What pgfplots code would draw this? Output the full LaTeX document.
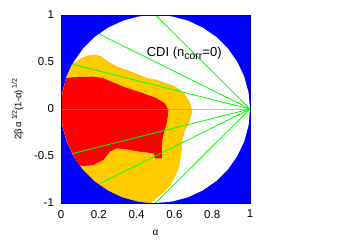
\documentclass[border=0pt]{standalone}
\usepackage{fontspec}
\setmainfont{Liberation Sans}
\usepackage{pgfplots}
\pgfplotsset{compat=1.18}
\definecolor{cblue}{RGB}{0,0,255}
\definecolor{cgold}{RGB}{255,204,0}
\definecolor{cred}{RGB}{255,0,0}
\definecolor{cgreen}{RGB}{0,255,0}
\definecolor{cedge}{RGB}{255,170,0}
\begin{document}
\begin{tikzpicture}[x=1pt,y=1pt]
\useasboundingbox (0,0) rectangle (342,240);
\begin{axis}[
  at={(61pt,37pt)}, anchor=south west,
  scale only axis, width=189pt, height=188pt,
  xmin=0, xmax=1, ymin=-1, ymax=1,
  xtick={0,0.2,0.4,0.6,0.8,1},
  xticklabels={0,0.2,0.4,0.6,0.8,1},
  ytick={-1,-0.5,0,0.5,1},
  yticklabels={-1,-0.5,0,0.5,1},
  major tick length=0pt,
  tick label style={font=\fontsize{11.5}{13}\selectfont},
  xticklabel style={yshift=-3.5pt},
  yticklabel style={xshift=-3.5pt},
  /pgf/number format/assume math mode=true,
  axis line style={draw=cblue!70!black, line width=0.4pt},
  axis on top,
  xlabel={α},
  xlabel style={at={(axis description cs:0.5,-0.16)}, anchor=center, font=\fontsize{10}{12}\selectfont},
  ylabel={2β\,α\,\raisebox{4.5pt}{\fontsize{7}{8}\selectfont 1/2}(1-α)\,\raisebox{4.5pt}{\fontsize{7}{8}\selectfont 1/2}},
  ylabel style={at={(axis description cs:-0.23,0.5)}, anchor=center, rotate=0, font=\fontsize{9.5}{11}\selectfont},
]
% blue background
\addplot[fill=cblue, draw=none] coordinates {(0,-1) (1,-1) (1,1) (0,1)} -- cycle;
% white physical ellipse
\addplot[fill=white, draw=none] coordinates {
(1,0) (0.9924,0.1736) (0.9698,0.3420) (0.9330,0.5) (0.8830,0.6428) (0.8214,0.7660)
(0.75,0.8660) (0.6710,0.9397) (0.5868,0.9848) (0.5,1) (0.4132,0.9848) (0.3290,0.9397)
(0.25,0.8660) (0.1786,0.7660) (0.1170,0.6428) (0.0670,0.5) (0.0302,0.3420) (0.0076,0.1736)
(0,0) (0.0076,-0.1736) (0.0302,-0.3420) (0.0670,-0.5) (0.1170,-0.6428) (0.1786,-0.7660)
(0.25,-0.8660) (0.3290,-0.9397) (0.4132,-0.9848) (0.5,-1) (0.5868,-0.9848) (0.6710,-0.9397)
(0.75,-0.8660) (0.8214,-0.7660) (0.8830,-0.6428) (0.9330,-0.5) (0.9698,-0.3420) (0.9924,-0.1736)
} -- cycle;
% gold region
\addplot[fill=cgold, draw=cedge, line width=0.3pt] coordinates {
(0.057,0.467) (0.10,0.53) (0.14,0.565) (0.175,0.575) (0.21,0.56) (0.25,0.50) (0.295,0.45)
(0.35,0.41) (0.40,0.37) (0.45,0.33) (0.50,0.31) (0.56,0.27) (0.60,0.24) (0.63,0.20)
(0.655,0.15) (0.675,0.09) (0.688,0.03) (0.69,-0.04) (0.68,-0.12) (0.665,-0.19)
(0.65,-0.25) (0.642,-0.32) (0.638,-0.40) (0.633,-0.50) (0.625,-0.60) (0.61,-0.69)
(0.594,-0.75) (0.575,-0.82) (0.545,-0.88) (0.515,-0.93) (0.49,-0.97) (0.472,-0.998)
(0.4132,-0.9848) (0.3290,-0.9397) (0.25,-0.8660) (0.1786,-0.7660) (0.1170,-0.6428)
(0.0670,-0.5) (0.0302,-0.3420) (0.0076,-0.1736) (0,0) (0.0076,0.1736) (0.0302,0.3420)
} -- cycle;
% red region
\addplot[fill=cred, draw=none] coordinates {
(0.028,0.33) (0.08,0.34) (0.171,0.344) (0.224,0.327) (0.28,0.28) (0.33,0.237)
(0.385,0.20) (0.435,0.167) (0.506,0.114) (0.55,0.06) (0.568,-0.01) (0.565,-0.08)
(0.559,-0.152) (0.545,-0.25) (0.535,-0.33) (0.533,-0.525) (0.497,-0.525) (0.492,-0.472)
(0.418,-0.454) (0.35,-0.43) (0.295,-0.418) (0.259,-0.454) (0.224,-0.543) (0.171,-0.596)
(0.118,-0.606) (0.10,-0.60) (0.0670,-0.5) (0.0302,-0.3420) (0.0076,-0.1736) (0,0)
(0.0076,0.1736) (0.028,0.33)
} -- cycle;
% green lines
\addplot[cgreen, line width=0.8pt] coordinates {(1,0) (0.5,1)};
\addplot[cgreen, line width=0.8pt] coordinates {(1,0) (0.2,0.8)};
\addplot[cgreen, line width=0.8pt] coordinates {(1,0) (0.06,0.475)};
\addplot[cgreen, line width=0.8pt, opacity=0.6] coordinates {(1,0) (0,0)};
\addplot[cgreen, line width=0.8pt] coordinates {(1,0) (0.06,-0.475)};
\addplot[cgreen, line width=0.8pt] coordinates {(1,0) (0.2,-0.8)};
\addplot[cgreen, line width=0.8pt] coordinates {(1,0) (0.5,-1)};
\node[anchor=base west, inner sep=0pt, font=\fontsize{13}{15}\selectfont] at (axis cs:0.453,0.555) {CDI (n\raisebox{-3pt}{\fontsize{10.5}{12}\selectfont corr}=0)};
\end{axis}
\end{tikzpicture}
\end{document}
